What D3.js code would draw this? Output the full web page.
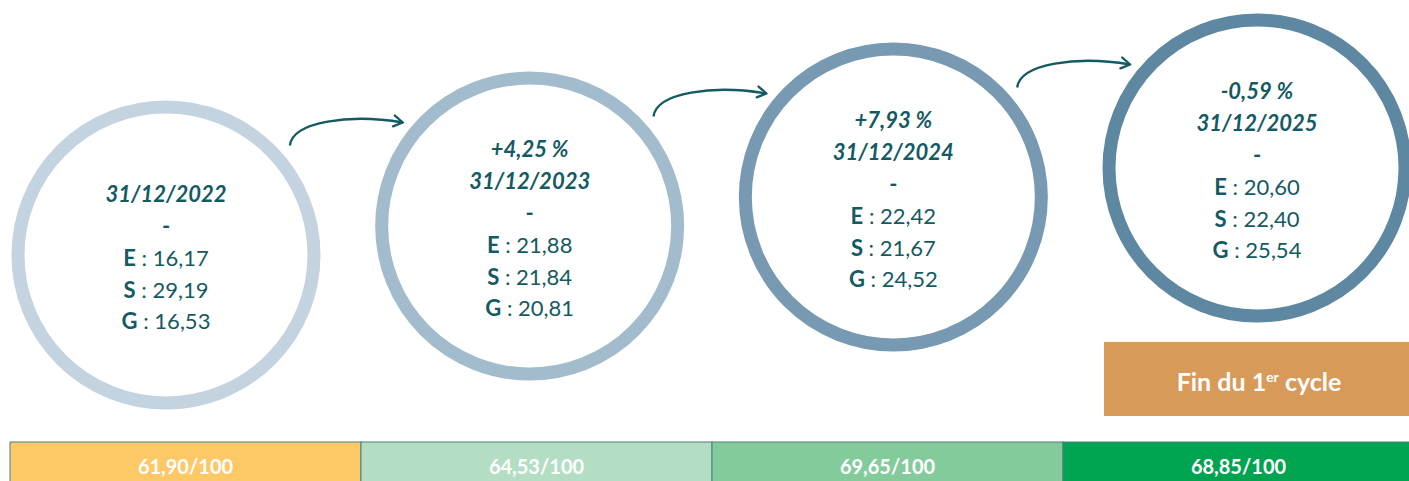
<!DOCTYPE html>
<html>
<head>
<meta charset="utf-8">
<script src="https://cdn.jsdelivr.net/npm/d3@7"></script>
<style>
	body { margin: 0; background: #fff; }
	svg { display: block; font-family: Lato, "Open Sans", sans-serif; }
</style>
</head>
<body>
<div id="chart"></div>
<script>
// values
var dates = ["31/12/2022", "31/12/2023", "31/12/2024", "31/12/2025"];
var changes = [null, "+4,25 %", "+7,93 %", "-0,59 %"];
var scoreE = ["16,17", "21,88", "22,42", "20,60"];
var scoreS = ["29,19", "21,84", "21,67", "22,40"];
var scoreG = ["16,53", "20,81", "24,52", "25,54"];
var totals = ["61,90/100", "64,53/100", "69,65/100", "68,85/100"];
var ringColors = ["#c3d3df", "#a3bccd", "#7799b1", "#5e88a1"];
var barColors = ["#fdc866", "#b3dec4", "#84cb9c", "#00a34f"];

var width = 1409, height = 481;
var teal = "#145a63";

var svg = d3.select("#chart").append("svg")
	.attr("width", width)
	.attr("height", height);

var x = d3.scalePoint().domain(dates).range([166, 1257]);
var y = d3.scaleLinear().domain([0, dates.length - 1]).range([255, 168]);
var band = d3.scaleBand().domain(dates).range([10, 1414]);

var ringR = 148, ringW = 13, lineH = 31.7;

// arrowhead
svg.append("defs").append("marker")
	.attr("id", "head")
	.attr("viewBox", "0 0 14 14")
	.attr("refX", 12).attr("refY", 7)
	.attr("markerWidth", 14).attr("markerHeight", 14)
	.attr("markerUnits", "userSpaceOnUse")
	.attr("orient", "auto")
	.append("path")
	.attr("d", "M3,1.5 L12,7 L3,12.5")
	.attr("fill", "none")
	.attr("stroke", teal)
	.attr("stroke-width", 2.3)
	.attr("stroke-linecap", "round")
	.attr("stroke-linejoin", "round");

// rings
var rings = svg.selectAll(".ring")
	.data(dates)
	.enter().append("g")
	.attr("class", "ring")
	.attr("transform", function(d, i) { return "translate(" + x(d) + "," + y(i) + ")"; });

rings.append("circle")
	.attr("r", ringR)
	.attr("fill", "#fff")
	.attr("stroke", function(d, i) { return ringColors[i]; })
	.attr("stroke-width", ringW);

rings.each(function(d, i) {
	var g = d3.select(this);
	var lines = [];
	if (changes[i]) lines.push({ kind: "head", text: changes[i] });
	lines.push({ kind: "head", text: d });
	lines.push({ kind: "dash", text: "-" });
	lines.push({ kind: "val", key: "E", text: scoreE[i] });
	lines.push({ kind: "val", key: "S", text: scoreS[i] });
	lines.push({ kind: "val", key: "G", text: scoreG[i] });

	var n = lines.length;
	var t = g.selectAll("text")
		.data(lines)
		.enter().append("text")
		.attr("text-anchor", "middle")
		.attr("dominant-baseline", "central")
		.attr("y", function(l, k) { return (k - (n - 1) / 2) * lineH + 2; })
		.attr("fill", teal);

	t.filter(function(l) { return l.kind == "head"; })
		.attr("font-size", 22)
		.attr("font-weight", 700)
		.attr("font-style", "italic")
		.text(function(l) { return l.text; });

	t.filter(function(l) { return l.kind == "dash"; })
		.attr("font-size", 22)
		.attr("font-weight", 700)
		.text("-");

	var v = t.filter(function(l) { return l.kind == "val"; })
		.attr("font-size", 22);
	v.append("tspan").attr("font-weight", 700).text(function(l) { return l.key; });
	v.append("tspan").attr("font-weight", 400).text(function(l) { return " : " + l.text; });
});

// arrows between rings
var pairs = d3.pairs(dates.map(function(d, i) { return [x(d), y(i)]; }));
svg.selectAll(".arrow")
	.data(pairs)
	.enter().append("path")
	.attr("class", "arrow")
	.attr("d", function(p) {
		var mx = (p[0][0] + p[1][0]) / 2, my = (p[0][1] + p[1][1]) / 2;
		var x0 = mx - 58, y0 = my - 95, x1 = mx + 55, y1 = my - 118;
		return "M" + x0 + "," + y0 +
			" C" + (x0 + 3) + "," + (y0 - 24) + " " + (x0 + 60) + "," + (y1 - 9) + " " + x1 + "," + y1;
	})
	.attr("fill", "none")
	.attr("stroke", teal)
	.attr("stroke-width", 2.3)
	.attr("marker-end", "url(#head)");

// end of cycle box
var last = dates[dates.length - 1];
svg.append("rect")
	.attr("x", band(last) + 41)
	.attr("y", 342)
	.attr("width", width - band(last) - 41)
	.attr("height", 74)
	.attr("fill", "#d89a59");

var fin = svg.append("text")
	.attr("x", x(last) + 2)
	.attr("y", 391)
	.attr("text-anchor", "middle")
	.attr("fill", "#fff")
	.attr("font-size", 25)
	.attr("font-weight", 700);
fin.append("tspan").text("Fin du 1");
fin.append("tspan").attr("font-size", 14).attr("dy", -9).text("er");
fin.append("tspan").attr("dy", 9).text(" cycle");

// score bar
var bar = svg.selectAll(".seg")
	.data(dates)
	.enter().append("g")
	.attr("class", "seg");

bar.append("rect")
	.attr("x", function(d) { return band(d); })
	.attr("y", 442)
	.attr("width", band.bandwidth())
	.attr("height", 45)
	.attr("fill", function(d, i) { return barColors[i]; })
	.attr("stroke", "#4d7f86")
	.attr("stroke-width", 1);

bar.append("text")
	.attr("x", function(d) { return band(d) + band.bandwidth() / 2; })
	.attr("y", 474)
	.attr("text-anchor", "middle")
	.attr("fill", "#fff")
	.attr("font-size", 20)
	.attr("font-weight", 700)
	.text(function(d, i) { return totals[i]; });
</script>
</body>
</html>
